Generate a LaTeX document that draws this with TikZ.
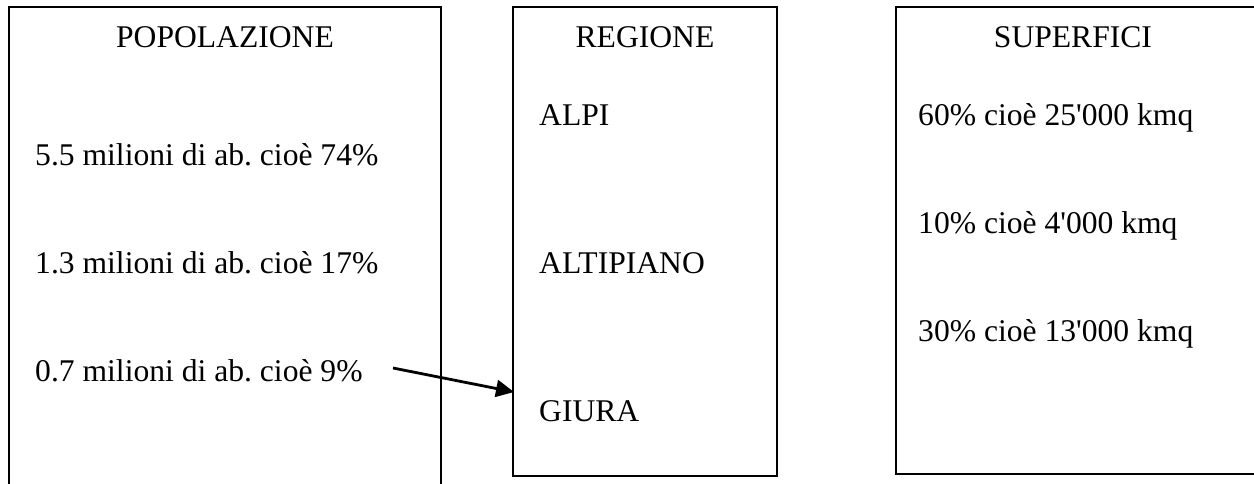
\documentclass[tikz,border=0pt]{standalone}
\usepackage{fontspec}
\setmainfont{Liberation Serif}[Ligatures=TeXOff]
\usetikzlibrary{arrows.meta}
\frenchspacing
\begin{document}
\begin{tikzpicture}[x=1pt,y=-1pt,
  frame/.style={line width=2pt,black},
  lbl/.style={anchor=base west,inner sep=0pt,font=\fontsize{31.6}{36}\selectfont},
  ttl/.style={anchor=base,inner sep=0pt,font=\fontsize{31.6}{36}\selectfont},
  conn/.style={line width=2.8pt,-{Triangle[length=18pt,width=17pt]}}]
\useasboundingbox (0,0) rectangle (1254,483);
% boxes
\draw[frame] (9,490) -- (9,7) -- (441,7) -- (441,490);
\draw[frame] (513,7) rectangle (777,476);
\draw[frame] (1260,474) -- (896,474) -- (896,7) -- (1260,7);
% titles
\node[ttl] (tpop) at (225,47) {POPOLAZIONE};
\node[ttl] (treg) at (645,47) {REGIONE};
\node[ttl] (tsup) at (1073,47) {SUPERFICI};
% left texts
\node[lbl] (p1) at (35,165) {5.5 milioni di ab. cioè 74\%};
\node[lbl] (p2) at (35,273) {1.3 milioni di ab. cioè 17\%};
\node[lbl] (p3) at (35,381) {0.7 milioni di ab. cioè 9\%};
% middle texts
\node[lbl] (r1) at (539,125) {ALPI};
\node[lbl] (r2) at (539,273) {ALTIPIANO};
\node[lbl] (r3) at (539,421) {GIURA};
% right texts
\node[lbl] (s1) at (918,125) {60\% cioè 25'000 kmq};
\node[lbl] (s2) at (918,233) {10\% cioè 4'000 kmq};
\node[lbl] (s3) at (918,341) {30\% cioè 13'000 kmq};
% arrow
\coordinate (astart) at (393,368);
\coordinate (aend) at (514,392);
\draw[conn] (astart) -- (aend);
\end{tikzpicture}
\end{document}
